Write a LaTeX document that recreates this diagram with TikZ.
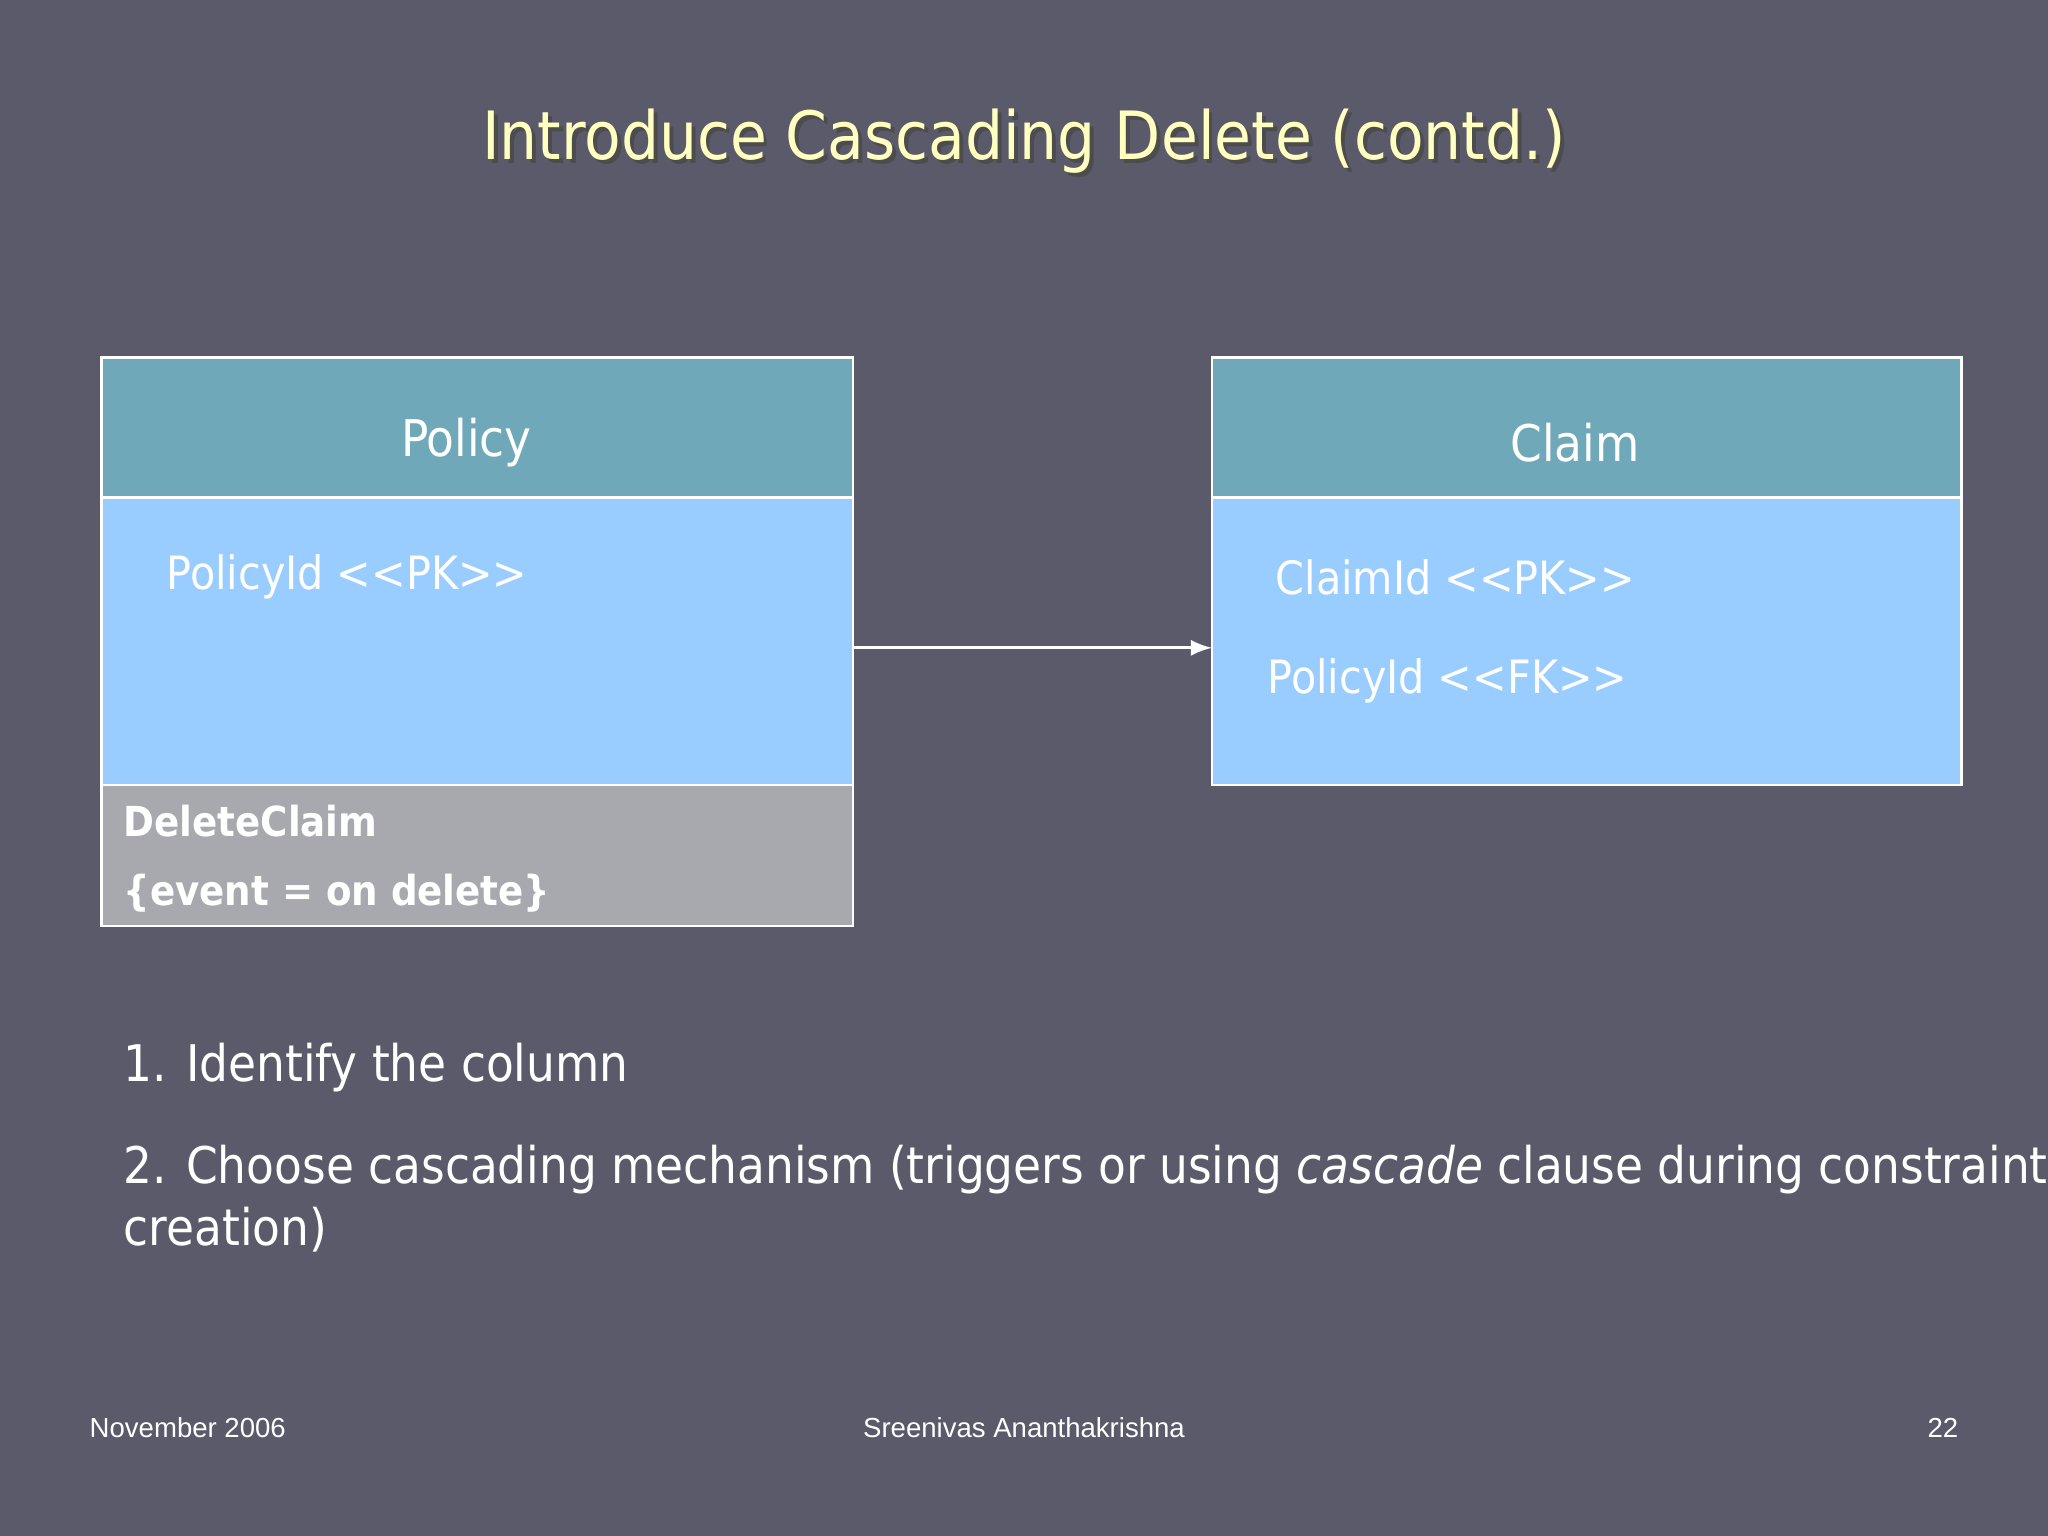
\documentclass[tikz,border=0pt]{standalone}
\usepackage{fontspec}
\setmainfont{DejaVu Sans Condensed}
\newfontfamily\foot{Liberation Sans}
\definecolor{bg}{HTML}{5A5A6B}
\definecolor{teal}{HTML}{6FA8B8}
\definecolor{lblue}{HTML}{99CCFF}
\definecolor{gry}{HTML}{A8A9AE}
\definecolor{ttl}{HTML}{FFFFC0}
\begin{document}
\begin{tikzpicture}[x=0.01cm,y=-0.01cm,
  box/.style={draw=white,line width=0.6pt},
  wt/.style={text=white,inner sep=0pt}]
\fill[bg] (0,0) rectangle (1568,1176);
\useasboundingbox (0,0) rectangle (1568,1176);
\node[text=black!70,font=\fontsize{14.5}{17}\selectfont] at (787,111) {Introduce Cascading Delete (contd.)};
\node[text=ttl,font=\fontsize{14.5}{17}\selectfont] (title) at (784,108) {Introduce Cascading Delete (contd.)};
% Policy
\filldraw[box,fill=teal] (78,274) rectangle (653,381);
\filldraw[box,fill=lblue] (78,381) rectangle (653,601);
\filldraw[box,fill=gry] (78,601) rectangle (653,709);
\node[wt,font=\fontsize{11}{13}\selectfont] (pol) at (357,339) {Policy};
\node[wt,anchor=west,font=\fontsize{10}{12}\selectfont] (pid) at (127,442) {PolicyId <{}<PK>{}>};
\node[wt,anchor=west,font=\bfseries\fontsize{9}{11}\selectfont] (dc) at (94,629) {DeleteClaim};
\node[wt,anchor=west,font=\bfseries\fontsize{9}{11}\selectfont] (ev) at (94,684) {\{event = on delete\}};
% Claim
\filldraw[box,fill=teal] (928,274) rectangle (1502,381);
\filldraw[box,fill=lblue] (928,381) rectangle (1502,601);
\node[wt,font=\fontsize{11}{13}\selectfont] (cl) at (1206,339) {Claim};
\node[wt,anchor=west,font=\fontsize{10}{12}\selectfont] (cid) at (976,442) {ClaimId <{}<PK>{}>};
\node[wt,anchor=west,font=\fontsize{10}{12}\selectfont] (fk) at (970,521) {PolicyId <{}<FK>{}>};
\coordinate (a) at (653,496); \coordinate (b) at (928,496);
\draw[white,line width=0.6pt,-latex] (a) -- (b);
% text
\node[wt,anchor=west,font=\fontsize{11}{13}\selectfont] (l1) at (94,817) {1. Identify the column};
\node[wt,anchor=north west,align=left,font=\fontsize{11}{13.5}\selectfont] (l2) at (94,876) {2. Choose cascading mechanism (triggers or using \textit{cascade} clause during constraint\\creation)};
\node[wt,anchor=west,font=\foot\fontsize{6}{7}\selectfont] (f1) at (68,1093) {November 2006};
\node[wt,font=\foot\fontsize{6}{7}\selectfont] (f2) at (784,1093) {Sreenivas Ananthakrishna};
\node[wt,anchor=east,font=\foot\fontsize{6}{7}\selectfont] (f3) at (1500,1093) {22};
\end{tikzpicture}
\end{document}
